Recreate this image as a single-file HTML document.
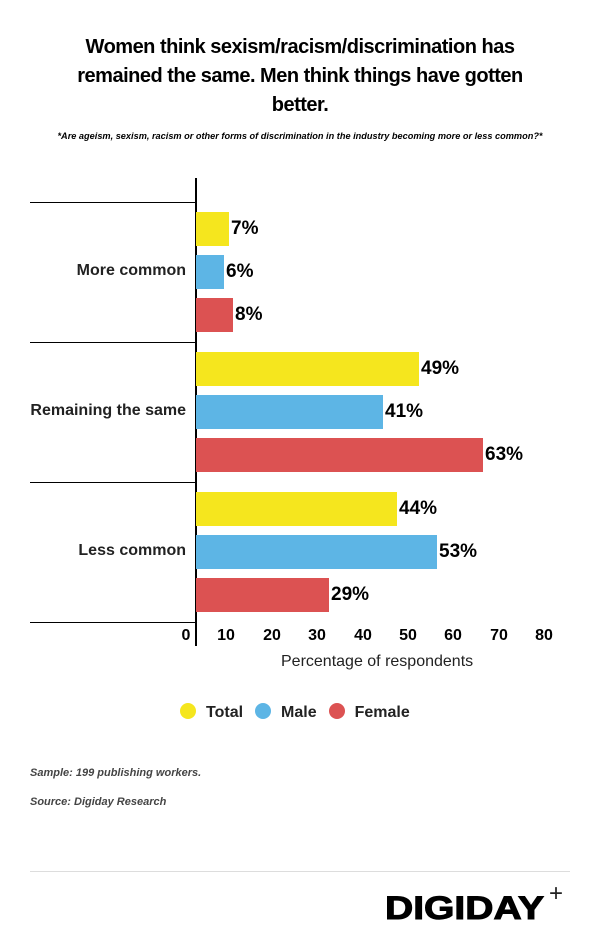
<!DOCTYPE html>
<html><head><meta charset="utf-8"><style>
body{margin:0;width:600px;height:941px;background:#fff;font-family:"Liberation Sans",sans-serif;position:relative;overflow:hidden;color:#000}
.a{position:absolute}
.t{left:0;width:600px;text-align:center;font-weight:bold;font-size:20px;line-height:29px;top:33px;letter-spacing:-0.5px}
.bar{position:absolute;left:196px;height:34px}
.y{background:#f5e61e}.m{background:#5db5e5}.f{background:#dc5252}
.v{position:absolute;font-weight:bold;font-size:19px;line-height:34px}
.hl{position:absolute;left:30px;width:166px;height:1px;background:#000}
.cat{position:absolute;right:414px;font-size:16px;font-weight:bold;color:#222}
.tk{position:absolute;top:627px;font-size:16px;font-weight:bold;width:40px;text-align:center;margin-left:-20px}
.dot{display:inline-block;width:16px;height:16px;border-radius:50%;vertical-align:-2px;margin-right:10px}
.it{font-size:11px;font-style:italic;font-weight:bold;color:#444}
</style></head><body>
<div class="a t">Women think sexism/racism/discrimination has<br>remained the same. Men think things have gotten<br>better.</div>
<div class="a it" style="left:0;width:600px;text-align:center;top:131px;font-size:9.2px;color:#000">*Are ageism, sexism, racism or other forms of discrimination in the industry becoming more or less common?*</div>
<div class="a" style="left:195px;top:178px;width:2px;height:468px;background:#000"></div>
<div class="hl" style="top:202px"></div><div class="hl" style="top:342px"></div><div class="hl" style="top:482px"></div><div class="hl" style="top:622px"></div>
<div class="cat" style="top:262px">More common</div>
<div class="cat" style="top:402px">Remaining the same</div>
<div class="cat" style="top:542px">Less common</div>
<div class="bar y" style="top:212px;width:33px"></div><div class="v" style="top:212px;left:231px">7%</div>
<div class="bar m" style="top:255px;width:28px"></div><div class="v" style="top:255px;left:226px">6%</div>
<div class="bar f" style="top:298px;width:37px"></div><div class="v" style="top:298px;left:235px">8%</div>
<div class="bar y" style="top:352px;width:223px"></div><div class="v" style="top:352px;left:421px">49%</div>
<div class="bar m" style="top:395px;width:187px"></div><div class="v" style="top:395px;left:385px">41%</div>
<div class="bar f" style="top:438px;width:287px"></div><div class="v" style="top:438px;left:485px">63%</div>
<div class="bar y" style="top:492px;width:201px"></div><div class="v" style="top:492px;left:399px">44%</div>
<div class="bar m" style="top:535px;width:241px"></div><div class="v" style="top:535px;left:439px">53%</div>
<div class="bar f" style="top:578px;width:133px"></div><div class="v" style="top:578px;left:331px">29%</div>
<div class="tk" style="left:186px">0</div><div class="tk" style="left:226px">10</div><div class="tk" style="left:272px">20</div><div class="tk" style="left:317px">30</div><div class="tk" style="left:363px">40</div><div class="tk" style="left:408px">50</div><div class="tk" style="left:453px">60</div><div class="tk" style="left:499px">70</div><div class="tk" style="left:544px">80</div>
<div class="a" style="left:281px;top:653px;font-size:16px;color:#222">Percentage of respondents</div>
<div class="a" style="left:180px;top:703px;font-size:16px;font-weight:bold;color:#222"><span class="dot" style="background:#f5e61e"></span>Total<span class="dot" style="background:#5db5e5;margin-left:12px"></span>Male<span class="dot" style="background:#dc5252;margin-left:12px"></span>Female</div>
<div class="a it" style="left:30px;top:767px">Sample: 199 publishing workers.</div>
<div class="a it" style="left:30px;top:796px">Source: Digiday Research</div>
<div class="a" style="left:30px;top:871px;width:540px;height:1px;background:#ddd"></div>
<div class="a" style="left:385px;top:888px;font-size:32px;font-weight:900;letter-spacing:0px;transform:scaleX(1.22);transform-origin:left;line-height:40px;-webkit-text-stroke:1px #000">DIGIDAY</div>
<div class="a" style="left:549px;top:880px;font-size:24px;line-height:28px;font-weight:normal;color:#222">+</div>
</body></html>
